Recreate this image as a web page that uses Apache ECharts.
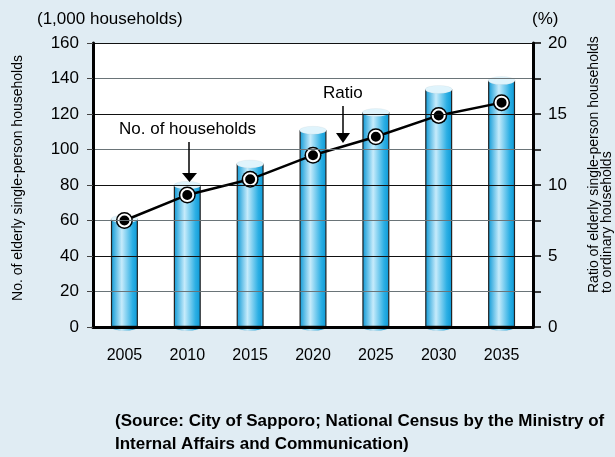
<!DOCTYPE html>
<html>
<head>
<meta charset="utf-8">
<script src="https://cdn.jsdelivr.net/npm/echarts@6/dist/echarts.min.js"></script>
<style>
  html, body { margin: 0; padding: 0; background: #e0ecf3; }
  #chart { width: 615px; height: 457px; }
</style>
</head>
<body>
<div id="chart"></div>
<script>
// data
const years = ['2005', '2010', '2015', '2020', '2025', '2030', '2035']
const households = [61, 80, 92, 111, 121, 134, 139] // 1,000 households
const ratio = [7.5, 9.3, 10.4, 12.1, 13.4, 14.9, 15.8] // %

const FONT = 'Liberation Sans, Arial, sans-serif'
const barW = 27

const cylinder = {
  type: 'linear', x: 0, y: 0, x2: 1, y2: 0,
  colorStops: [
    { offset: 0, color: '#0a98d6' },
    { offset: 0.4, color: '#c6ebfb' },
    { offset: 0.8, color: '#2cafe4' },
    { offset: 1, color: '#0a98d6' },
  ],
}

const myChart = echarts.init(document.getElementById('chart'))
myChart.setOption({
  backgroundColor: '#e0ecf3',
  textStyle: { fontFamily: FONT },
  animation: false,
  grid: {
    left: 93, right: 82, top: 43, bottom: 130,
    show: true, backgroundColor: '#fff', borderWidth: 0,
  },
  xAxis: {
    type: 'category',
    data: years,
    axisLine: { lineStyle: { color: '#000', width: 3 } },
    axisTick: { show: false },
    axisLabel: { color: '#000', fontSize: 16, margin: 21, fontFamily: FONT },
    z: 10,
  },
  yAxis: [
    {
      type: 'value',
      min: 0, max: 160, interval: 20,
      position: 'left',
      axisLine: { show: true, lineStyle: { color: '#000', width: 3 } },
      axisTick: { show: true, length: 6, lineStyle: { color: '#444' } },
      axisLabel: { color: '#000', fontSize: 17, margin: 14, fontFamily: FONT },
      splitLine: { show: true, lineStyle: { color: ['#111', '#6a7478'], width: 1 } },
      z: 10,
    },
    {
      type: 'value',
      min: 0, max: 20, interval: 2.5,
      position: 'right',
      axisLine: { show: true, lineStyle: { color: '#000', width: 3 } },
      axisTick: { show: true, length: 8, lineStyle: { color: '#000', width: 1.5 } },
      axisLabel: {
        color: '#000', fontSize: 17, margin: 15, fontFamily: FONT,
        formatter: (v) => (v % 5 === 0 ? String(v) : ''),
      },
      splitLine: { show: false },
      z: 10,
    },
  ],
  series: [
    {
      name: 'No. of households',
      type: 'bar',
      barWidth: barW,
      data: households,
      itemStyle: { color: cylinder, borderColor: '#222', borderWidth: 1.2 },
      z: 2,
    },
    {
      // bottom of the cylinder
      type: 'pictorialBar',
      symbol: 'circle',
      symbolSize: [barW, 8],
      symbolPosition: 'start',
      symbolOffset: [0, '50%'],
      data: households,
      itemStyle: { color: cylinder, borderColor: '#222', borderWidth: 1 },
      z: 1,
    },
    {
      // top of the cylinder
      type: 'pictorialBar',
      symbol: 'circle',
      symbolSize: [barW, 8],
      symbolPosition: 'end',
      symbolOffset: [0, '-50%'],
      data: households,
      itemStyle: { color: '#e0f4fc', borderColor: '#222', borderWidth: 1 },
      z: 3,
    },
    {
      // outer ring of the markers
      type: 'scatter',
      yAxisIndex: 1,
      symbol: 'circle',
      symbolSize: 17,
      data: ratio,
      itemStyle: { color: '#000', opacity: 1 },
      z: 4,
    },
    {
      name: 'Ratio',
      type: 'line',
      yAxisIndex: 1,
      data: ratio,
      symbol: 'circle',
      symbolSize: 12,
      lineStyle: { color: '#000', width: 2.5 },
      itemStyle: { color: '#000', borderColor: '#fff', borderWidth: 2 },
      z: 5,
    },
  ],
  graphic: [
    { type: 'text', left: 37, top: 11, style: { text: '(1,000 households)', fontSize: 17, fontFamily: FONT, fill: '#000' } },
    { type: 'text', left: 532, top: 11, style: { text: '(%)', fontSize: 17, fontFamily: FONT, fill: '#000' } },
    {
      type: 'text', x: 18, y: 178, rotation: Math.PI / 2,
      style: { text: 'No. of elderly single-person households', fontSize: 14, fontFamily: FONT, fill: '#000', align: 'center', verticalAlign: 'middle' },
    },
    {
      type: 'text', x: 588, y: 293, rotation: Math.PI / 2,
      style: { text: 'Ratio of elderly single-person households\nto ordinary households', fontSize: 14, lineHeight: 13, fontFamily: FONT, fill: '#000', align: 'left', verticalAlign: 'top' },
    },
    // annotations
    { type: 'text', left: 119, top: 121, style: { text: 'No. of households', fontSize: 17, fontFamily: FONT, fill: '#000' }, z: 20 },
    { type: 'line', shape: { x1: 189, y1: 142, x2: 189, y2: 174 }, style: { stroke: '#000', lineWidth: 1.5 }, z: 20 },
    { type: 'polygon', shape: { points: [[182, 173], [197, 173], [189.5, 182]] }, style: { fill: '#000' }, z: 20 },
    { type: 'text', left: 323, top: 85, style: { text: 'Ratio', fontSize: 17, fontFamily: FONT, fill: '#000' }, z: 20 },
    { type: 'line', shape: { x1: 343, y1: 106, x2: 343, y2: 134 }, style: { stroke: '#000', lineWidth: 1.5 }, z: 20 },
    { type: 'polygon', shape: { points: [[336, 133], [350, 133], [343, 143]] }, style: { fill: '#000' }, z: 20 },
    // source
    {
      type: 'text', left: 115, top: 410,
      style: {
        text: '(Source: City of Sapporo; National Census by the Ministry of\nInternal Affairs and Communication)',
        fontSize: 17, lineHeight: 23, fontWeight: 'bold', fontFamily: FONT, fill: '#000',
      },
    },
  ],
})
</script>
</body>
</html>
